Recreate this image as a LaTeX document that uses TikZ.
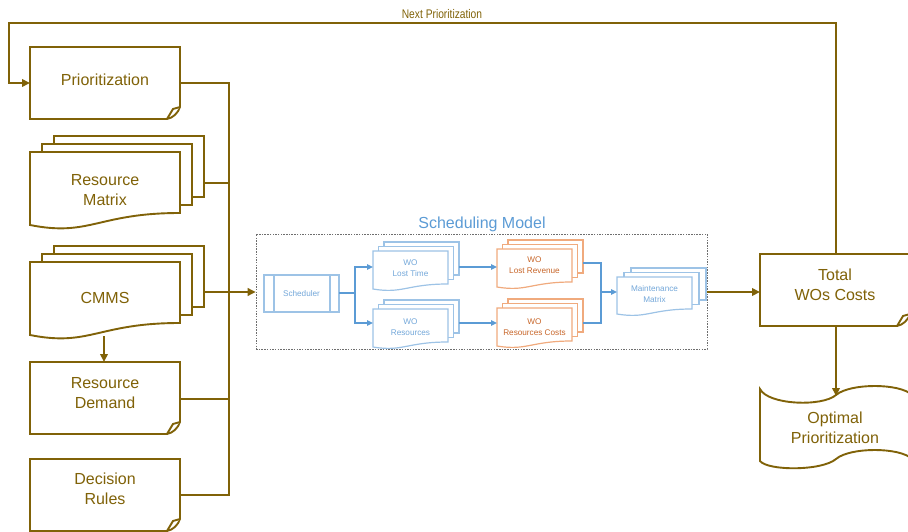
\documentclass[tikz,border=0pt]{standalone}
\usepackage{fontspec}
\usepackage{graphicx}
\setmainfont{Liberation Sans}
\usetikzlibrary{arrows.meta}

\definecolor{gold}{RGB}{128,98,8}
\definecolor{skyline}{RGB}{157,195,230}
\definecolor{skytext}{RGB}{116,168,218}
\definecolor{skywire}{RGB}{91,155,213}
\definecolor{peachline}{RGB}{240,170,125}
\definecolor{peachink}{RGB}{200,102,42}
\definecolor{framegray}{RGB}{110,110,110}

\tikzset{
  goldshape/.style={draw=gold, line width=1.9pt, fill=white},
  goldwire/.style={draw=gold, line width=2.3pt},
  goldarrow/.style={goldwire, -{Triangle[length=8pt,width=7.5pt]}},
  goldlabel/.style={text=gold, font=\fontsize{16}{20}\selectfont, align=center, inner sep=0pt},
  blueshape/.style={draw=skyline, line width=1.2pt, fill=white},
  peachshape/.style={draw=peachline, line width=1.2pt, fill=white},
  bluewire/.style={draw=skywire, line width=1.5pt},
  bluearrow/.style={bluewire, -{Triangle[length=6pt,width=5.5pt]}},
  bluelabel/.style={text=skytext, font=\fontsize{8.2}{11}\selectfont, align=center, inner sep=0pt},
  peachlabel/.style={text=peachink, font=\fontsize{8.2}{11}\selectfont, align=center, inner sep=0pt},
  modelframe/.style={draw=framegray, line width=0.6pt, dash pattern=on 1.5pt off 1.2pt},
}

% document with a folded lower-right corner: style, left, top, right, bottom
\newcommand{\notedoc}[5]{%
  \path[#1] (#2,#3) -- (#4,#3) -- (#4,#5-12)
    .. controls (#4-2,#5-6) and (#4-7,#5-1) .. (#4-13,#5) -- (#2,#5) -- cycle;
  \path[#1] (#4,#5-12) -- (#4-7,#5-10) -- (#4-13,#5);
}
% stack of three documents, front sheet with a wavy foot:
% style, left, top, width, right height, left height, dx, dy
\newcommand{\stackdoc}[8]{%
  \path[#1] (#2+2*#7,#3-2*#8) rectangle ++(#4,#5);
  \path[#1] (#2+#7,#3-#8) rectangle ++(#4,#5);
  \path[#1] (#2,#3) -- ++(#4,0) -- ++(0,#5)
    .. controls (#2+0.45*#4,#3+#5) and (#2+0.4*#4,#3+2*#6-#5) .. (#2,#3+#6) -- cycle;
}

\begin{document}
\begin{tikzpicture}[x=1pt,y=-1pt]
\useasboundingbox (0,0) rectangle (908,532);

% ---------- input documents ----------
\notedoc{goldshape}{30}{47}{180}{119}
\node[goldlabel] (prio) at (105,80) {Prioritization};

\stackdoc{goldshape}{30}{152}{150}{61}{73}{12}{8}
\node[goldlabel] (resmat) at (105,190) {Resource\\Matrix};

\stackdoc{goldshape}{30}{262}{150}{61}{73}{12}{8}
\node[goldlabel] (cmms) at (105,298) {CMMS};

\notedoc{goldshape}{30}{362}{180}{434}
\node[goldlabel] (resdem) at (105,393) {Resource\\Demand};

\notedoc{goldshape}{30}{459}{180}{531}
\node[goldlabel] (rules) at (105,489) {Decision\\Rules};

% ports of the input documents
\coordinate (prio-in)  at (30,83);
\coordinate (prio-out) at (180,83);
\coordinate (resmat-out) at (204,183);
\coordinate (cmms-out) at (204,292);
\coordinate (cmms-foot) at (104,336);
\coordinate (resdem-top) at (104,362);
\coordinate (resdem-out) at (180,399);
\coordinate (rules-out) at (180,495);
\coordinate (busx) at (229,0);

% ---------- scheduling model ----------
\node[modelframe, minimum width=451pt, minimum height=115pt, inner sep=0pt] (model) at (481.5,291.5) {};
\node[text=skywire, font=\fontsize{16}{20}\selectfont, inner sep=0pt] (modeltitle) at (482,224) {Scheduling Model};

% scheduler (predefined process)
\path[blueshape] (264,275) rectangle (339,312);
\draw[draw=skyline, line width=1.2pt] (274,275) -- (274,312) (330,275) -- (330,312);
\node[bluelabel] (sched) at (301.5,293.5) {Scheduler};
\coordinate (sched-out) at (339,293);
\coordinate (fork) at (355,293);

\stackdoc{blueshape}{373}{251}{75}{33}{38}{5.5}{4.5}
\node[bluelabel] (losttime) at (410.5,268.5) {WO\\Lost Time};
\stackdoc{blueshape}{373}{309}{75}{33}{38}{5.5}{4.5}
\node[bluelabel] (wores) at (410.5,327) {WO\\Resources};

\stackdoc{peachshape}{497}{249}{75}{33}{38}{5.5}{4.5}
\node[peachlabel] (lostrev) at (534.5,265.5) {WO\\Lost Revenue};
\stackdoc{peachshape}{497}{308}{75}{33}{38}{5.5}{4.5}
\node[peachlabel] (rescost) at (534.5,327) {WO\\Resources Costs};

\stackdoc{blueshape}{617}{277}{75}{32}{37}{7}{4.5}
\node[bluelabel] (mmatrix) at (654.5,294) {Maintenance\\Matrix};

\coordinate (losttime-in) at (373,267);
\coordinate (wores-in) at (373,323);
\coordinate (losttime-out) at (459,267);
\coordinate (wores-out) at (459,323);
\coordinate (lostrev-in) at (497,267);
\coordinate (rescost-in) at (497,323);
\coordinate (lostrev-out) at (583,263);
\coordinate (rescost-out) at (583,323);
\coordinate (join) at (601,292);
\coordinate (mmatrix-in) at (617,292);

\draw[bluewire] (sched-out) -- (fork);
\draw[bluearrow] (fork) |- (losttime-in);
\draw[bluearrow] (fork) |- (wores-in);
\draw[bluearrow] (losttime-out) -- (lostrev-in);
\draw[bluearrow] (wores-out) -- (rescost-in);
\draw[bluewire] (lostrev-out) -| (join) |- (rescost-out);
\draw[bluearrow] (join) -- (mmatrix-in);

% ---------- outputs ----------
\notedoc{goldshape}{760}{254}{910}{326}
\node[goldlabel] (total) at (835,285) {Total\\WOs Costs};
\coordinate (total-in) at (760,292);
\coordinate (total-top) at (836,254);
\coordinate (total-foot) at (836,326);

\path[goldshape] (760,389) .. controls (768,405) and (822,407) .. (836,395)
  .. controls (850,383) and (900,383) .. (912,395) -- (912,459)
  .. controls (900,447) and (850,447) .. (836,459)
  .. controls (822,471) and (768,471) .. (760,461) -- cycle;
\node[goldlabel] (optimal) at (835,428) {Optimal\\Prioritization};
\coordinate (optimal-top) at (836,396);

% ---------- connectors ----------
\draw[goldwire] (prio-out) -- (prio-out -| busx) -- (rules-out -| busx) -- (rules-out);
\draw[goldwire] (resmat-out) -- (resmat-out -| busx);
\draw[goldwire] (resdem-out) -- (resdem-out -| busx);
\draw[goldarrow] (cmms-out) -- (model.west |- cmms-out);
\draw[goldarrow] (cmms-foot) -- (resdem-top);
\draw[goldarrow] (model.east |- total-in) -- (total-in);
\draw[goldarrow] (total-foot) -- (optimal-top);
\draw[goldarrow] (total-top) -- (836,23) -- (9,23) -- (9,83) -- (prio-in);
\node[text=gold, font=\fontsize{12.5}{14}\selectfont, inner sep=0pt] (nextlabel) at (442,14)
  {\scalebox{0.82}[1]{Next Prioritization}};
\end{tikzpicture}
\end{document}
